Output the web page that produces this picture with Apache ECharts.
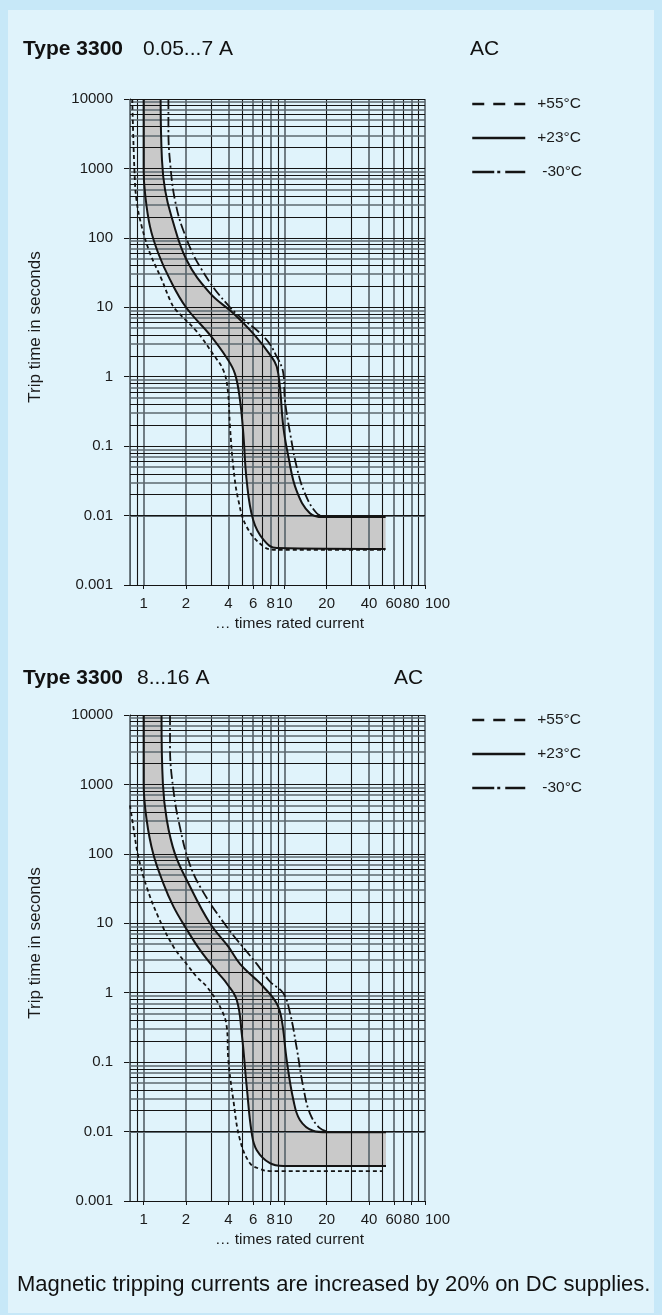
<!DOCTYPE html>
<html>
<head>
<meta charset="utf-8">
<script src="https://cdn.jsdelivr.net/npm/echarts@6/dist/echarts.min.js"></script>
<style>
  html, body { margin: 0; padding: 0; background: #c7e8f8; }
  #main { width: 662px; height: 1315px; }
</style>
</head>
<body>
<div id="main"></div>
<script>
// axis ticks / grid values
var xTickLabels = [1, 2, 4, 6, 8, 10, 20, 40, 60, 80, 100];
var yTickLabels = [0.001, 0.01, 0.1, 1, 10, 100, 1000, 10000];
var xGridValues = [0.8, 0.9, 1, 2, 3, 4, 5, 6, 7, 8, 9, 10, 20, 30, 40, 50, 60, 70, 80, 90, 100];
var gridMultipliers = [1, 2, 3, 4, 5, 6, 7, 8, 9];
var gridDecades = [0.001, 0.01, 0.1, 1, 10, 100, 1000];

var legendNames = ['+55°C', '+23°C', '-30°C'];

// Type 3300 0.05...7 A  -- [times rated current, trip time s]
var hot1 = [[0.83, 10000], [0.86, 950], [0.89, 350], [0.97, 145], [1.11, 60], [1.345, 25], [1.54, 12.7],
  [1.67, 9.5], [2.38, 4.5], [3.15, 2.05], [3.68, 1.25], [3.96, 0.65], [4.11, 0.19], [4.34, 0.05],
  [4.71, 0.0168], [5.4, 0.0069], [7.1, 0.0036], [8.8, 0.0032], [52, 0.0032]];
var left1 = [[1.0, 10000], [1.0, 950], [1.023, 440], [1.11, 145], [1.27, 60], [1.54, 25], [2.0, 10],
  [2.96, 4.0], [3.9, 1.86], [4.46, 1.1], [4.84, 0.46], [5.11, 0.153], [5.4, 0.032], [6.0, 0.0087],
  [7.1, 0.0045], [8.83, 0.0034], [52.5, 0.0033]];
var right1 = [[1.32, 10000], [1.35, 1320], [1.42, 490], [1.58, 200], [2.02, 48], [2.96, 16], [4.34, 8.2],
  [6.0, 4.2], [8.1, 1.95], [8.83, 1.4], [9.3, 0.72], [9.84, 0.19], [10.7, 0.07], [12.2, 0.023],
  [15.2, 0.0108], [18.9, 0.0095], [52.5, 0.0095]];
var cold1 = [[1.5, 10000], [1.5, 3500], [1.56, 950], [1.67, 350], [1.91, 130], [2.52, 38], [4.11, 10],
  [7.3, 3.6], [8.83, 1.95], [9.84, 1.12], [10.1, 0.46], [11, 0.153], [12.25, 0.05], [14, 0.021],
  [17, 0.0108], [20, 0.0096]];

// Type 3300 8...16 A
var hot2 = [[0.8, 500], [0.845, 245], [0.917, 91], [1.05, 33.6], [1.27, 12.4], [1.63, 4.6], [2.08, 2.4],
  [2.38, 1.7], [2.81, 1.22], [3.49, 0.63], [3.9, 0.32], [4.0, 0.107], [4.34, 0.0285], [4.84, 0.0076],
  [5.7, 0.0035], [6.7, 0.0029], [7.9, 0.0027], [50, 0.0027]];
var left2 = [[1.0, 10000], [1.0, 1040], [1.05, 310], [1.17, 100], [1.38, 37.7], [1.63, 17.4], [2.0, 8.5],
  [2.52, 4.1], [3.4, 1.9], [3.9, 1.36], [4.59, 0.785], [4.98, 0.26], [5.4, 0.045], [5.87, 0.0094],
  [6.37, 0.0054], [7.9, 0.0035], [9.84, 0.0032], [52.8, 0.0032]];
var right2 = [[1.34, 10000], [1.37, 1040], [1.46, 310], [1.67, 100], [2.08, 37.7], [2.96, 10], [4.0, 4.6],
  [4.84, 2.6], [6.0, 1.7], [7.1, 1.22], [8.83, 0.7], [9.58, 0.41], [10.4, 0.107], [11.6, 0.0285],
  [12.9, 0.0147], [16, 0.0103], [20, 0.0098], [52.8, 0.0098]];
var cold2 = [[1.54, 10000], [1.54, 3500], [1.64, 740], [1.81, 245], [2.08, 81], [2.52, 33.6], [3.9, 8.9],
  [6.37, 2.6], [7.9, 1.45], [9.84, 0.98], [11, 0.5], [12.2, 0.167], [13.6, 0.045], [15.2, 0.0183],
  [17.9, 0.0112], [21, 0.0098]];

var FONT = "'Liberation Sans', Arial, Helvetica, sans-serif";
var INK = '#141414';
var GREY = '#5c686f';
var BAND = '#c9c9c9';
var SMOOTH = 0.4;

var chart = echarts.init(document.getElementById('main'));

function fmt(v) {
  return String(+(+v).toPrecision(4));
}

// log extent can land a hair under 100, keep the last label inside it
function inside(v) {
  return v >= 100 ? 99.999 : v;
}

// grid lines drawn as mark lines (black thin / grey thicker, like the scanned mesh)
function gridLines() {
  var items = [];
  var black = { color: INK, width: 1.1, type: 'solid' };
  var grey = { color: GREY, width: 1.7, type: 'solid' };
  xGridValues.forEach(function (v) {
    var k = Math.round(v / Math.pow(10, Math.floor(Math.log10(v) + 1e-9)));
    var isGrey = (k % 2 === 0 || k === 1) && v !== 20;
    items.push({ xAxis: v, lineStyle: isGrey ? grey : black });
  });
  gridDecades.forEach(function (d) {
    gridMultipliers.forEach(function (k) {
      var isGrey = k % 2 === 1 && k !== 1;
      items.push({ yAxis: +(k * d).toPrecision(6), lineStyle: isGrey ? grey : black });
    });
  });
  items.push({ yAxis: 10000, lineStyle: black });
  return items;
}

function bandRender(left, right) {
  return function (params, api) {
    var pts = [];
    // end points are doubled so the smoothing keeps the corners sharp
    pts.push(api.coord(left[0]));
    for (var i = 0; i < left.length; i++) pts.push(api.coord(left[i]));
    pts.push(api.coord(left[left.length - 1]));
    pts.push(api.coord(right[right.length - 1]));
    for (var j = right.length - 1; j >= 0; j--) pts.push(api.coord(right[j]));
    pts.push(api.coord(right[0]));
    return {
      type: 'polygon',
      shape: { points: pts, smooth: SMOOTH },
      style: { fill: BAND }
    };
  };
}

function plotSeries(gi, hot, left, right, cold) {
  var base = { type: 'line', xAxisIndex: gi, yAxisIndex: gi, symbol: 'none', smooth: SMOOTH, z: 4, silent: true };
  return [
    {
      type: 'custom', xAxisIndex: gi, yAxisIndex: gi, z: 1, silent: true,
      data: [left[0]],
      renderItem: bandRender(left, right)
    },
    {
      type: 'line', xAxisIndex: gi, yAxisIndex: gi, data: [], z: 2, silent: true,
      markLine: { silent: true, symbol: ['none', 'none'], label: { show: false }, z: 2, data: gridLines() }
    },
    Object.assign({}, base, { name: legendNames[0], data: hot, lineStyle: { color: INK, width: 1.8, type: [4, 3] } }),
    Object.assign({}, base, { name: legendNames[1], data: left, lineStyle: { color: INK, width: 2 } }),
    Object.assign({}, base, { name: legendNames[1], data: right, lineStyle: { color: INK, width: 2 } }),
    Object.assign({}, base, { name: legendNames[2], data: cold, lineStyle: { color: INK, width: 1.8, type: [10, 3, 2, 3] } })
  ];
}

function xAxisOf(gi) {
  return {
    type: 'log', logBase: 10, gridIndex: gi, min: 0.8, max: 100,
    name: '… times rated current', nameLocation: 'middle', nameGap: 31,
    nameTextStyle: { fontSize: 15.5, color: '#1a1a1a', fontFamily: FONT, padding: [0, 0, 0, 24] },
    axisLine: { show: true, onZero: false, lineStyle: { color: INK, width: 1 } },
    axisTick: { show: true, length: 4, customValues: xTickLabels.map(inside), lineStyle: { color: INK } },
    axisLabel: {
      customValues: xTickLabels.map(inside), margin: 11, fontSize: 15, color: '#1a1a1a', fontFamily: FONT,
      showMinLabel: true, showMaxLabel: true, hideOverlap: false, alignMaxLabel: 'left',
      formatter: fmt
    },
    splitLine: { show: false }
  };
}

function yAxisOf(gi) {
  return {
    type: 'log', logBase: 10, gridIndex: gi, min: 0.001, max: 10000,
    name: 'Trip time in seconds', nameLocation: 'middle', nameGap: 86,
    nameTextStyle: { fontSize: 17, color: '#1a1a1a', fontFamily: FONT, padding: [0, 0, 0, 30] },
    axisLine: { show: true, lineStyle: { color: INK, width: 1 } },
    axisTick: { show: true, length: 6, customValues: yTickLabels, lineStyle: { color: INK } },
    axisLabel: {
      customValues: yTickLabels, margin: 17, fontSize: 15, color: '#1a1a1a', fontFamily: FONT,
      showMinLabel: true, showMaxLabel: true, formatter: fmt
    },
    splitLine: { show: false }
  };
}

function legendOf(top) {
  return {
    orient: 'vertical', left: 466, top: top, itemWidth: 53, itemHeight: 14, itemGap: 18,
    selectedMode: false,
    itemStyle: { opacity: 0, borderWidth: 0 },
    textStyle: { fontSize: 15.5, lineHeight: 16, color: '#1a1a1a', fontFamily: FONT, padding: [0, 0, 0, 7] },
    data: [
      { name: legendNames[0], lineStyle: { type: [12, 9], width: 2.5, color: INK } },
      { name: legendNames[1], lineStyle: { type: 'solid', width: 2.5, color: INK } },
      { name: legendNames[2], lineStyle: { type: [22, 3, 3, 5], width: 2.5, color: INK }, textStyle: { padding: [0, 0, 0, 12] } }
    ]
  };
}

function label(x, y, text, size, weight) {
  return {
    type: 'text', x: x, y: y, silent: true,
    style: { text: text, fontSize: size, fontWeight: weight || 'normal', fontFamily: FONT, fill: '#111', verticalAlign: 'middle' }
  };
}

var option = {
  animation: false,
  backgroundColor: '#c7e8f8',
  graphic: [
    { type: 'rect', shape: { x: 8, y: 10, width: 646, height: 1303 }, style: { fill: '#e0f3fb' }, silent: true, z: -10 },
    label(23, 49, 'Type 3300', 21, 'bold'),
    label(143, 49, '0.05...7 A', 21),
    label(470, 49, 'AC', 21),
    label(23, 678, 'Type 3300', 21, 'bold'),
    label(137, 678, '8...16 A', 21),
    label(394, 678, 'AC', 21),
    label(17, 1285, 'Magnetic tripping currents are increased by 20% on DC supplies.', 22)
  ],
  grid: [
    { left: 130, top: 99, width: 295, height: 486, outerBoundsMode: 'none' },
    { left: 130, top: 715, width: 295, height: 486, outerBoundsMode: 'none' }
  ],
  xAxis: [xAxisOf(0), xAxisOf(1)],
  yAxis: [yAxisOf(0), yAxisOf(1)],
  legend: [legendOf(91), legendOf(707)],
  series: plotSeries(0, hot1, left1, right1, cold1).concat(plotSeries(1, hot2, left2, right2, cold2))
};

chart.setOption(option);
</script>
</body>
</html>
